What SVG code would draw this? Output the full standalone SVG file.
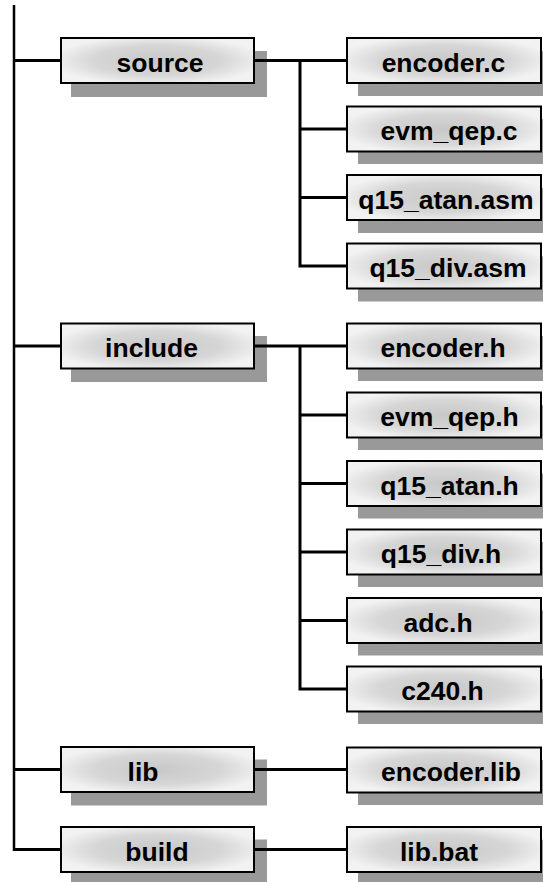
<svg xmlns="http://www.w3.org/2000/svg" width="543" height="882" viewBox="0 0 543 882">
<defs>
<radialGradient id="g" cx="0.5" cy="0.5" r="0.55">
<stop offset="0" stop-color="#c8c8c8"/>
<stop offset="0.6" stop-color="#d6d6d6"/>
<stop offset="1" stop-color="#f2f2f2"/>
</radialGradient>
<style>
.sh{fill:#999999}
.bx{fill:url(#g);stroke:#000;stroke-width:2}
.t{font-family:"Liberation Sans",Arial,sans-serif;font-weight:bold;font-size:26.5px;fill:#000;text-anchor:middle}
.c{stroke:#000;stroke-width:3;fill:none}
.v{stroke:#000;stroke-width:2.5;fill:none}
</style>
</defs>
<rect width="543" height="882" fill="#fff"/>
<g id="source"><rect class="sh" x="71" y="51" width="196" height="46"/><rect class="bx" x="61" y="38" width="193" height="45"/><text class="t" x="160" y="72">source</text></g>
<g id="encoder_c"><rect class="sh" x="358" y="51" width="190" height="45"/><rect class="bx" x="347" y="38" width="194" height="45"/><text class="t" x="443.5" y="71.5">encoder.c</text></g>
<g id="evm_qep_c"><rect class="sh" x="358" y="119" width="190" height="45"/><rect class="bx" x="347" y="106.5" width="194" height="45"/><text class="t" x="449" y="140">evm_qep.c</text></g>
<g id="q15_atan_asm"><rect class="sh" x="358" y="188" width="190" height="45"/><rect class="bx" x="347" y="175" width="194" height="45"/><text class="t" x="446" y="208.5">q15_atan.asm</text></g>
<g id="q15_div_asm"><rect class="sh" x="358" y="256.5" width="190" height="45"/><rect class="bx" x="347" y="243.5" width="194" height="45"/><text class="t" x="448" y="277">q15_div.asm</text></g>
<g id="include"><rect class="sh" x="71" y="336" width="196" height="46"/><rect class="bx" x="61" y="323.5" width="193" height="45"/><text class="t" x="151.5" y="357">include</text></g>
<g id="encoder_h"><rect class="sh" x="358" y="336" width="190" height="45"/><rect class="bx" x="347" y="323.5" width="194" height="45"/><text class="t" x="443" y="357">encoder.h</text></g>
<g id="evm_qep_h"><rect class="sh" x="358" y="405" width="190" height="45"/><rect class="bx" x="347" y="392.5" width="194" height="45"/><text class="t" x="449.5" y="426">evm_qep.h</text></g>
<g id="q15_atan_h"><rect class="sh" x="358" y="473.5" width="190" height="45"/><rect class="bx" x="347" y="461" width="194" height="45"/><text class="t" x="449.5" y="494.5">q15_atan.h</text></g>
<g id="q15_div_h"><rect class="sh" x="358" y="542" width="190" height="45"/><rect class="bx" x="347" y="529.5" width="194" height="45"/><text class="t" x="441" y="563">q15_div.h</text></g>
<g id="adc_h"><rect class="sh" x="358" y="610.5" width="190" height="45"/><rect class="bx" x="347" y="598" width="194" height="45"/><text class="t" x="438" y="631.5">adc.h</text></g>
<g id="c240_h"><rect class="sh" x="358" y="679" width="190" height="45"/><rect class="bx" x="347" y="666.5" width="194" height="45"/><text class="t" x="442.5" y="700">c240.h</text></g>
<g id="lib"><rect class="sh" x="71" y="759.5" width="196" height="46"/><rect class="bx" x="61" y="747" width="193" height="45"/><text class="t" x="143" y="780.5">lib</text></g>
<g id="encoder_lib"><rect class="sh" x="358" y="760" width="190" height="45"/><rect class="bx" x="347" y="747.5" width="194" height="45"/><text class="t" x="451" y="781">encoder.lib</text></g>
<g id="build"><rect class="sh" x="71" y="839.5" width="196" height="46"/><rect class="bx" x="61" y="827" width="193" height="45"/><text class="t" x="157" y="860.5">build</text></g>
<g id="lib_bat"><rect class="sh" x="358" y="839.5" width="190" height="45"/><rect class="bx" x="347" y="827" width="194" height="45"/><text class="t" x="439" y="860.5">lib.bat</text></g>
<g id="connectors">
<path class="v" d="M14 5V851"/>
<path class="c" d="M14 60.5H61M14 346H61M14 769.5H61M14 849.5H61"/>
<path class="c" d="M254 60.5H347M300 60.5V267.5M300 129H347M300 197.5H347M300 266H347"/>
<path class="c" d="M254 346H347M300 346V690.5M300 415H347M300 483.5H347M300 552H347M300 620.5H347M300 689H347"/>
<path class="c" d="M254 769.5H347M254 849.5H347"/>
</g>
</svg>
